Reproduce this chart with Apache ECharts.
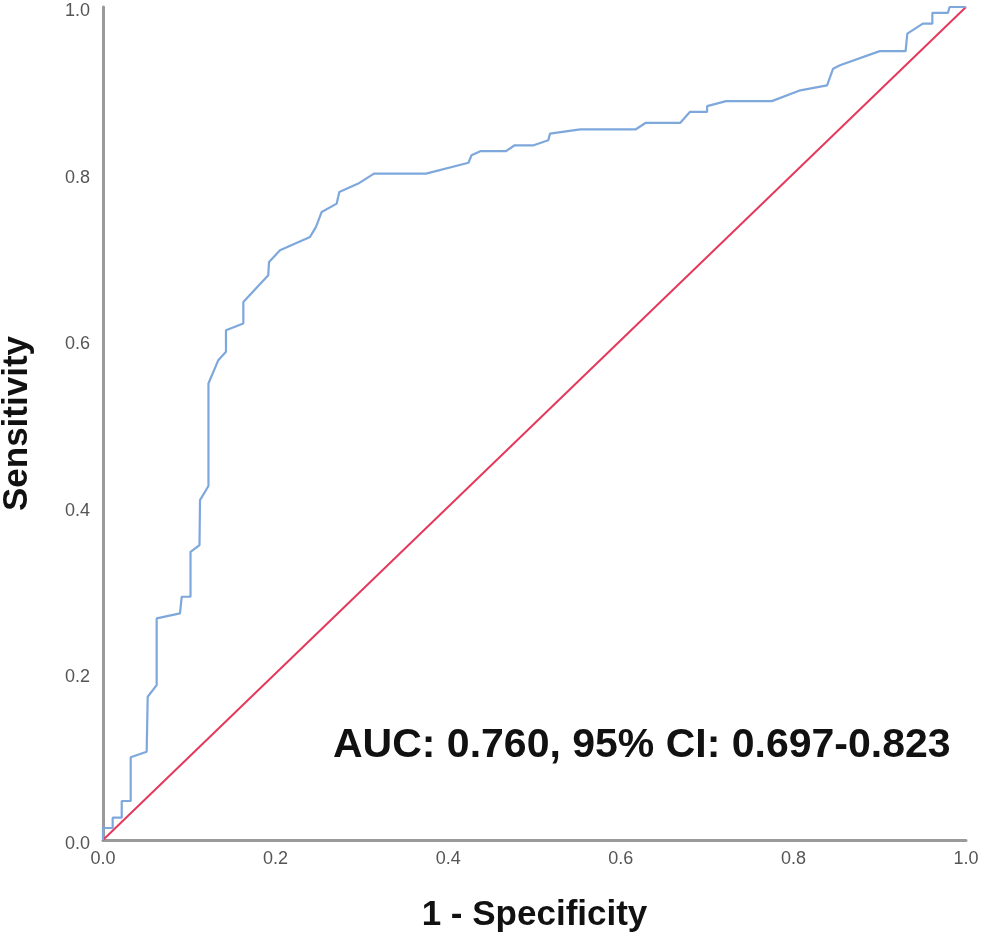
<!DOCTYPE html>
<html>
<head>
<meta charset="utf-8">
<script src="https://cdn.jsdelivr.net/npm/echarts@6/dist/echarts.min.js"></script>
<style>
html,body{margin:0;padding:0;background:#fff;}
#chart{width:983px;height:944px;}
</style>
</head>
<body>
<div id="chart"></div>
<script>
// ROC curve points
var fpr = [0, 0, 0.0112, 0.0112, 0.0217, 0.0217, 0.0321, 0.0321, 0.0506, 0.0518, 0.0622, 0.0622, 0.0892, 0.0912, 0.1014, 0.1014, 0.1118, 0.1124, 0.1222, 0.1222, 0.1336, 0.1425, 0.1425, 0.1626, 0.1626, 0.1915, 0.1924, 0.2051, 0.2399, 0.2468, 0.2534, 0.2708, 0.2738, 0.2958, 0.314, 0.3743, 0.4235, 0.427, 0.4378, 0.467, 0.477, 0.499, 0.516, 0.518, 0.553, 0.617, 0.629, 0.669, 0.680, 0.700, 0.700, 0.722, 0.775, 0.808, 0.839, 0.846, 0.854, 0.900, 0.930, 0.932, 0.950, 0.961, 0.961, 0.979, 0.981, 1];
var tpr = [0, 0.0144, 0.0144, 0.0268, 0.0268, 0.0468, 0.0468, 0.0993, 0.106, 0.172, 0.186, 0.266, 0.272, 0.292, 0.292, 0.346, 0.354, 0.408, 0.425, 0.548, 0.576, 0.586, 0.612, 0.620, 0.646, 0.678, 0.694, 0.708, 0.724, 0.736, 0.754, 0.764, 0.778, 0.788, 0.800, 0.800, 0.813, 0.822, 0.827, 0.827, 0.834, 0.834, 0.840, 0.848, 0.853, 0.853, 0.861, 0.861, 0.874, 0.874, 0.881, 0.887, 0.887, 0.900, 0.906, 0.926, 0.930, 0.947, 0.947, 0.968, 0.980, 0.980, 0.993, 0.993, 1.0, 1];
var refX = [0, 1];
var refY = [0, 1];
var xTicks = [0, 0.2, 0.4, 0.6, 0.8, 1.0];
var yTicks = [0, 0.2, 0.4, 0.6, 0.8, 1.0];
var xTitle = '1 - Specificity';
var yTitle = 'Sensitivity';
var aucText = 'AUC: 0.760, 95% CI: 0.697-0.823';

var rocData = fpr.map(function (v, i) { return [v, tpr[i]]; });
var refData = refX.map(function (v, i) { return [v, refY[i]]; });

var font = 'Arial, "Liberation Sans", Helvetica, sans-serif';
var chart = echarts.init(document.getElementById('chart'), null, {renderer: 'canvas'});
chart.setOption({
  animation: false,
  backgroundColor: '#ffffff',
  grid: {left: 103, right: 17, top: 7, bottom: 104, containLabel: false, outerBoundsMode: 'none'},
  xAxis: {
    type: 'value', min: xTicks[0], max: xTicks[xTicks.length - 1], interval: 0.2,
    name: xTitle, nameLocation: 'middle', nameGap: 58,
    nameTextStyle: {fontFamily: font, fontWeight: 'bold', fontSize: 35, color: '#111'},
    axisLine: {show: true, onZero: false, lineStyle: {color: '#9a9a9a', width: 3}},
    axisTick: {show: false},
    splitLine: {show: false},
    axisLabel: {fontFamily: font, fontSize: 18, color: '#555', margin: 10,
      formatter: function (v) { return v.toFixed(1); }}
  },
  yAxis: {
    type: 'value', min: yTicks[0], max: yTicks[yTicks.length - 1], interval: 0.2,
    name: yTitle, nameLocation: 'middle', nameGap: 68,
    nameTextStyle: {fontFamily: font, fontWeight: 'bold', fontSize: 35, color: '#111'},
    axisLine: {show: true, onZero: false, lineStyle: {color: '#9a9a9a', width: 3}},
    axisTick: {show: false},
    splitLine: {show: false},
    axisLabel: {fontFamily: font, fontSize: 18, color: '#555', margin: 13,
      formatter: function (v) { return '{a|' + v.toFixed(1) + '}'; },
      rich: {a: {fontFamily: font, fontSize: 18, color: '#555', padding: [8, 0, 0, 0]}}}
  },
  series: [
    {
      type: 'line', data: refData, showSymbol: false, symbol: 'none',
      lineStyle: {color: '#e5395c', width: 2}, z: 2
    },
    {
      type: 'line', data: rocData, showSymbol: false, symbol: 'none',
      lineStyle: {color: '#7ea8dc', width: 2.2}, z: 3
    }
  ],
  graphic: [{
    type: 'text', left: 333, top: 725,
    style: {text: aucText, font: 'bold 41px ' + font, fill: '#111'}
  }]
});
</script>
</body>
</html>
